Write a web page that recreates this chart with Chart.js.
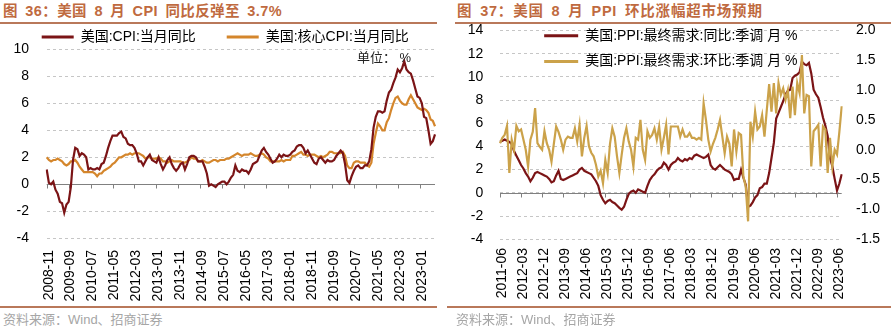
<!DOCTYPE html>
<html>
<head>
<meta charset="utf-8">
<script src="https://cdn.jsdelivr.net/npm/chart.js@4.4.0/dist/chart.umd.min.js"></script>
<style>
html,body{margin:0;padding:0;background:#fff;}
body{width:891px;height:328px;position:relative;overflow:hidden;font-family:"Liberation Sans","Noto Sans CJK SC",sans-serif;}
.title{position:absolute;top:3px;font-size:14.5px;font-weight:bold;color:#BF6A40;white-space:nowrap;letter-spacing:0.4px;word-spacing:3px;line-height:16px;}
.rule{position:absolute;height:2px;background:#B9785A;}
.src{position:absolute;top:311px;font-size:13px;line-height:17px;color:#A6A6A6;white-space:nowrap;}
.unit{position:absolute;left:357px;top:49px;font-size:13px;line-height:17px;color:#222;white-space:nowrap;}
canvas{position:absolute;}
</style>
</head>
<body>
<div class="title" style="left:3px;">图 36：美国 8 月 CPI 同比反弹至 3.7%</div>
<div class="rule" style="left:0;top:22px;width:437px;"></div>
<div class="title" style="left:457px;letter-spacing:0.8px;">图 37：美国 8 月 PPI 环比涨幅超市场预期</div>
<div class="rule" style="left:455px;top:22px;width:436px;"></div>

<canvas id="c1" width="445" height="305" style="left:0;top:-1px;"></canvas>
<canvas id="c2" width="445" height="290" style="left:446px;top:17.3px;"></canvas>
<div class="unit">单位：&nbsp;%</div>

<div class="rule" style="left:0;top:306px;width:437px;"></div>
<div class="rule" style="left:447px;top:306px;width:444px;"></div>
<div class="src" style="left:3px;">资料来源：Wind、招商证券</div>
<div class="src" style="left:456px;">资料来源：Wind、招商证券</div>

<script>
// ---------------- data ----------------
const cpiStart = [2008, 11];
const cpiYoY = [
  1.1, 0.1,
  0.0, 0.2, -0.4, -0.7, -1.3, -1.4, -2.1, -1.5, -1.3, -0.2, 1.8, 2.7,
  2.6, 2.1, 2.3, 2.2, 2.0, 1.1, 1.2, 1.1, 1.1, 1.2, 1.1, 1.5,
  1.6, 2.1, 2.7, 3.2, 3.6, 3.6, 3.6, 3.8, 3.9, 3.5, 3.4, 3.0,
  2.9, 2.9, 2.7, 2.3, 1.7, 1.7, 1.4, 1.7, 2.0, 2.2, 1.8, 1.7,
  1.6, 2.0, 1.5, 1.1, 1.4, 1.8, 2.0, 1.5, 1.2, 1.0, 1.2, 1.5,
  1.6, 1.1, 1.5, 2.0, 2.1, 2.1, 2.0, 1.7, 1.7, 1.7, 1.3, 0.8,
  -0.1, 0.0, -0.1, -0.2, 0.0, 0.1, 0.2, 0.2, 0.0, 0.2, 0.5, 0.7,
  1.4, 1.0, 0.9, 1.1, 1.0, 1.0, 0.8, 1.1, 1.5, 1.6, 1.7, 2.1,
  2.5, 2.7, 2.4, 2.2, 1.9, 1.6, 1.7, 1.9, 2.2, 2.0, 2.2, 2.1,
  2.1, 2.2, 2.4, 2.5, 2.8, 2.9, 2.9, 2.7, 2.3, 2.5, 2.2, 1.9,
  1.6, 1.5, 1.9, 2.0, 1.8, 1.6, 1.8, 1.7, 1.7, 1.8, 2.1, 2.3,
  2.5, 2.3, 1.5, 0.3, 0.1, 0.6, 1.0, 1.3, 1.4, 1.2, 1.2, 1.4,
  1.4, 1.7, 2.6, 4.2, 5.0, 5.4, 5.4, 5.3, 5.4, 6.2, 6.8, 7.0,
  7.5, 7.9, 8.5, 8.3, 8.6, 9.1, 8.5, 8.3, 8.2, 7.7, 7.1, 6.5,
  6.4, 6.0, 5.0, 4.9, 4.0, 3.0, 3.2, 3.7
];
const coreCpiYoY = [
  2.0, 1.8,
  1.7, 1.8, 1.8, 1.9, 1.8, 1.7, 1.5, 1.4, 1.5, 1.7, 1.7, 1.8,
  1.6, 1.3, 1.1, 0.9, 0.9, 0.9, 0.9, 0.9, 0.8, 0.6, 0.8, 0.8,
  1.0, 1.1, 1.2, 1.3, 1.5, 1.6, 1.8, 2.0, 2.0, 2.1, 2.2, 2.2,
  2.3, 2.2, 2.3, 2.3, 2.3, 2.2, 2.1, 1.9, 2.0, 2.0, 1.9, 1.9,
  1.9, 2.0, 1.9, 1.7, 1.7, 1.6, 1.7, 1.8, 1.7, 1.7, 1.7, 1.7,
  1.6, 1.6, 1.7, 1.8, 2.0, 1.9, 1.9, 1.7, 1.7, 1.8, 1.7, 1.6,
  1.6, 1.7, 1.8, 1.8, 1.7, 1.8, 1.8, 1.8, 1.9, 1.9, 2.0, 2.1,
  2.2, 2.3, 2.2, 2.1, 2.2, 2.2, 2.2, 2.3, 2.2, 2.1, 2.1, 2.2,
  2.3, 2.2, 2.0, 1.9, 1.7, 1.7, 1.7, 1.7, 1.7, 1.8, 1.7, 1.8,
  1.8, 1.8, 2.1, 2.1, 2.2, 2.3, 2.4, 2.2, 2.2, 2.1, 2.2, 2.2,
  2.2, 2.1, 2.0, 2.1, 2.0, 2.1, 2.2, 2.4, 2.4, 2.3, 2.3, 2.3,
  2.3, 2.4, 2.1, 1.4, 1.2, 1.2, 1.6, 1.7, 1.7, 1.6, 1.6, 1.6,
  1.4, 1.3, 1.6, 3.0, 3.8, 4.5, 4.3, 4.0, 4.0, 4.6, 4.9, 5.5,
  6.0, 6.4, 6.5, 6.2, 6.0, 5.9, 5.9, 6.3, 6.6, 6.3, 6.0, 5.7,
  5.6, 5.5, 5.6, 5.5, 5.3, 4.8, 4.7, 4.3
];
const cpiTickLabels = ['2008-11','2009-09','2010-07','2011-05','2012-03','2013-01','2013-11','2014-09','2015-07','2016-05','2017-03','2018-01','2018-11','2019-09','2020-07','2021-05','2022-03','2023-01'];

const ppiStart = [2011, 6];
const ppiYoY = [
  4.4, 4.5, 4.6, 4.5, 4.4, 4.2, 3.6,
  3.2, 2.8, 2.4, 2.1, 1.7, 1.4, 1.0, 1.3, 1.7, 1.8, 1.7, 1.6,
  1.5, 1.4, 1.2, 0.9, 1.0, 1.5, 1.9, 1.2, 1.1, 1.2, 1.3, 1.4,
  1.5, 1.6, 1.7, 2.0, 2.15, 1.9, 1.8, 1.7, 1.6, 1.3, 1.0, 0.6,
  -0.2, -0.6, -0.9, -0.7, -0.6, -0.8, -0.9, -1.1, -1.3, -1.45, -1.2, -0.6,
  -0.1, 0.1, 0.2, 0.0, 0.3, 0.2, 0.1, 0.0, 0.6, 1.1, 1.4, 1.6,
  1.9, 2.1, 2.2, 2.6, 2.4, 2.0, 2.4, 2.6, 2.7, 3.0, 2.8, 2.7,
  2.9, 2.8, 3.0, 2.9, 3.2, 3.3, 3.2, 3.1, 3.0, 3.1, 3.3, 2.4,
  2.1, 2.0, 2.2, 2.4, 2.2, 2.0, 1.9, 1.8, 1.6, 1.1, 1.2, 1.2,
  2.0, 1.3, 0.7, -1.2, -1.1, -0.8, -0.4, -0.2, 0.4, 0.5, 0.8, 0.8,
  1.7, 3.0, 4.3, 6.4, 6.9, 7.4, 7.9, 8.5, 8.8, 8.9, 9.9, 10.1,
  10.2, 10.4, 11.3, 11.1, 11.0, 11.2, 10.3, 8.9, 8.5, 8.2, 7.4, 6.5,
  5.8, 4.9, 3.0, 2.3, 1.2, 0.2, 0.8, 1.6
];
const ppiMoM = [
  0.11, 0.2, 0.25, 0.4, -0.39, 0.17, 0.0,
  0.4, 0.31, 0.34, 0.17, 0.0, -0.28, 0.17, 0.3, 0.7, 0.11, 0.05, 0.0,
  0.31, 0.11, 0.0, -0.2, 0.1, 0.39, 0.3, 0.17, 0.0, 0.17, 0.22, 0.2,
  0.2, 0.36, 0.14, 0.42, -0.11, 0.2, 0.4, 0.06, -0.05, -0.11, -0.25, -0.45,
  -0.35, -0.56, -0.17, -0.39, 0.1, 0.36, 0.22, -0.11, -0.39, -0.08, 0.2, 0.36,
  0.14, 0.0, -0.28, 0.2, 0.17, 0.5, 0.0, -0.17, 0.31, 0.2, 0.25, 0.36,
  0.17, 0.39, 0.0, 0.2, 0.42, -0.08, 0.39, 0.39, 0.39, 0.39, 0.22, 0.34,
  0.22, 0.22, 0.28, 0.2, 0.2, 0.17, 0.2, 0.17, 0.78, 0.5, 0.17, -0.03,
  0.1, 0.2, 0.34, 0.5, 0.22, -0.06, 0.22, 0.1, -0.28, 0.34, -0.03, 0.28,
  0.25, -0.45, -0.62, -1.2, 0.47, 0.22, 0.64, 0.34, 0.39, 0.58, 0.22, 0.67,
  1.1, 0.64, 1.12, 0.61, 1.12, 0.92, 1.03, 0.84, 1.0, 0.53, 1.06, 0.58,
  1.12, 0.95, 1.59, 0.61, 0.92, 0.9, -0.28, 0.31, 0.36, 0.42, -0.28, 0.39,
  0.34, -0.39, 0.2, -0.28, 0.0, -0.08, 0.3, 0.73
];
const ppiTickLabels = ['2011-06','2012-03','2012-12','2013-09','2014-06','2015-03','2015-12','2016-09','2017-06','2018-03','2018-12','2019-09','2020-06','2021-03','2021-12','2022-09','2023-06'];

const cpiNames = ['美国:CPI:当月同比', '美国:核心CPI:当月同比'];
const ppiNames = ['美国:PPI:最终需求:同比:季调 月 %', '美国:PPI:最终需求:环比:季调 月 %'];

// ---------------- helpers ----------------
function monthLabels(start, n) {
  const out = [];
  for (let k = 0; k < n; k++) {
    const t = start[1] - 1 + k;
    out.push((start[0] + Math.floor(t / 12)) + '-' + String(t % 12 + 1).padStart(2, '0'));
  }
  return out;
}
const cpiMonths = monthLabels(cpiStart, cpiYoY.length);
const ppiMonths = monthLabels(ppiStart, ppiYoY.length);

const FONT = '"Liberation Sans", "Noto Sans CJK SC", sans-serif';
Chart.defaults.font.family = FONT;
Chart.defaults.font.size = 14;
Chart.defaults.color = '#000';

const zeroAxis = {
  id: 'zeroAxis',
  beforeDatasetsDraw(chart, args, opts) {
    const xs = chart.scales.x, ys = chart.scales[opts.yId || 'y'];
    const ctx = chart.ctx;
    const y0 = Math.round(ys.getPixelForValue(0)) + 0.5;
    ctx.save();
    ctx.strokeStyle = opts.color || '#808080';
    ctx.lineWidth = 1;
    ctx.setLineDash([]);
    ctx.beginPath();
    ctx.moveTo(chart.chartArea.left, y0);
    ctx.lineTo(chart.chartArea.right, y0);
    xs.ticks.forEach((t, i) => {
      if (t.label) {
        const px = Math.round(xs.getPixelForTick(i)) + 0.5;
        ctx.moveTo(px, y0);
        ctx.lineTo(px, y0 + 4);
      }
    });
    ctx.stroke();
    ctx.restore();
  }
};

// let the legend draw over the plot area (its layout height is kept small)
const legendOverflow = {
  id: 'legendOverflow',
  beforeDraw(chart) {
    const lg = chart.legend;
    if (lg) { lg.bottom = lg.top + 90; lg.height = 90; }
  }
};

function legendLabels(chart) {
  return Chart.defaults.plugins.legend.labels.generateLabels(chart).map(l => Object.assign(l, {lineWidth: 0}));
}

const gridCfg = {color: '#c6c6c6', lineWidth: 1, drawTicks: false, borderDash: [3, 3]};
const borderCfg = {display: false, dash: [3, 3]};

function xScale(tickList, pad, height, padRight) {
  return {
    type: 'category', offset: false,
    grid: {display: false, drawTicks: false},
    border: {display: false},
    ticks: {
      autoSkip: false, minRotation: 90, maxRotation: 90, padding: pad, labelOffset: 2,
      color: '#000', font: {size: 14},
      callback(v) { const l = this.getLabelForValue(v); return tickList.includes(l) ? l : null; }
    },
    afterFit(s) { s.height = height; if (padRight !== undefined) s.paddingRight = padRight; }
  };
}
function fixY(width) {
  return function (s) { s.width = width; s.paddingTop = 0; s.paddingBottom = 0; };
}

// ---------------- chart 1 ----------------
new Chart(document.getElementById('c1'), {
  type: 'line',
  data: {
    labels: cpiMonths,
    datasets: [
      {label: cpiNames[0], data: cpiYoY, borderColor: '#7B1416', backgroundColor: '#7B1416', borderWidth: 2.2, pointRadius: 0, tension: 0},
      {label: cpiNames[1], data: coreCpiYoY, borderColor: '#D4862C', backgroundColor: '#D4862C', borderWidth: 2.2, pointRadius: 0, tension: 0}
    ]
  },
  options: {
    responsive: false, animation: false, events: [], devicePixelRatio: 1,
    layout: {padding: {left: 10.8, top: 0, right: 0, bottom: 0}},
    plugins: {
      legend: {
        position: 'top', align: 'start', maxHeight: 50.3,
        labels: {boxWidth: 32, boxHeight: 3, padding: 30.9, color: '#000', font: {size: 14}, generateLabels: legendLabels}
      },
      tooltip: {enabled: false},
      zeroAxis: {yId: 'y', color: '#808080'}
    },
    scales: {
      x: xScale(cpiTickLabels, 11.7, 65.7, 10),
      y: {
        min: -4, max: 10,
        ticks: {stepSize: 2, padding: 17.7, color: '#000', font: {size: 14}},
        grid: gridCfg, border: borderCfg,
        afterFit: fixY(35.9)
      }
    }
  },
  plugins: [zeroAxis, legendOverflow]
});

// ---------------- chart 2 ----------------
new Chart(document.getElementById('c2'), {
  type: 'line',
  data: {
    labels: ppiMonths,
    datasets: [
      {label: ppiNames[0], data: ppiYoY, yAxisID: 'y', order: 1, borderColor: '#7B1416', backgroundColor: '#7B1416', borderWidth: 2.2, pointRadius: 0, tension: 0},
      {label: ppiNames[1], data: ppiMoM, yAxisID: 'y1', order: 0, borderColor: '#CBA24A', backgroundColor: '#CBA24A', borderWidth: 2.2, pointRadius: 0, tension: 0}
    ]
  },
  options: {
    responsive: false, animation: false, events: [], devicePixelRatio: 1,
    layout: {padding: 0},
    plugins: {
      legend: {
        position: 'top', align: 'center', fullSize: false, maxHeight: 13.5,
        labels: {boxWidth: 34, boxHeight: 3, padding: 11.7, color: '#000', font: {size: 14}, generateLabels: legendLabels,
                 sort: (a, b) => a.datasetIndex - b.datasetIndex}
      },
      tooltip: {enabled: false},
      zeroAxis: {yId: 'y', color: '#808080'}
    },
    scales: {
      x: xScale(ppiTickLabels, 8.8, 67.8),
      y: {
        position: 'left', min: -4, max: 14,
        ticks: {stepSize: 2, padding: 16.7, color: '#000', font: {size: 14}},
        grid: gridCfg, border: borderCfg,
        afterFit: fixY(54)
      },
      y1: {
        position: 'right', min: -1.5, max: 2.0,
        ticks: {stepSize: 0.5, padding: 14.3, color: '#000', font: {size: 14}, callback: v => Number(v).toFixed(1)},
        grid: {display: false, drawTicks: false}, border: {display: false},
        afterFit: fixY(49.3)
      }
    }
  },
  plugins: [zeroAxis, legendOverflow]
});
</script>
</body>
</html>
